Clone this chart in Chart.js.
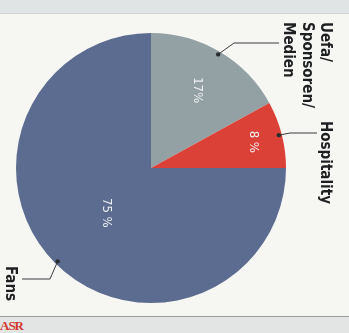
<!DOCTYPE html>
<html>
<head>
<meta charset="utf-8">
<script src="https://cdn.jsdelivr.net/npm/chart.js@4/dist/chart.umd.min.js"></script>
<style>
  html, body { margin: 0; padding: 0; }
  body { width: 349px; height: 333px; background: #f6f6f3; position: relative; overflow: hidden; }
  .topband { position: absolute; left: 0; top: 0; width: 349px; height: 13px; background: #e0e4e4; border-bottom: 1px solid #cfd3d3; }
  .botband { position: absolute; left: 0; top: 316px; width: 349px; height: 17px; background: #e3e5e5; border-top: 1px solid #9a9c9c; }
  .asr { position: absolute; left: 0; top: 318px; font: bold 13px "Liberation Serif", serif; color: #d2372d; letter-spacing: -1px; }
  #wrap { position: absolute; left: 0; top: 0; width: 349px; height: 333px; }
</style>
</head>
<body>
<div class="topband"></div>
<div class="botband"></div>
<div class="asr">ASR</div>
<div id="wrap"><canvas id="pie"></canvas></div>
<script>
// shares in percent, clockwise from 12 o'clock
const labels = [['Uefa/', 'Sponsoren/', 'Medien'], ['Hospitality'], ['Fans']]
const shares = [17, 8, 75]
const pctLabels = ['17%', '8 %', '75 %']
const colors = ['#93a1a5', '#dc4138', '#5b6c90']

// where the outside labels and leader elbows sit (pixels)
const calloutPos = [
  { tx: 325, ty: 22, elbow: [234, 43], end: [279, 43] },
  { tx: 325, ty: 121, elbow: [290, 133], end: [317, 133] },
  { tx: 10, ty: 266, elbow: [50, 279], end: [22, 279] },
]
const pctRadius = [0.67, 0.78, 0.47]

const textFont = 'bold 15px "Liberation Sans Narrow", "DejaVu Sans Condensed", sans-serif'

const calloutPlugin = {
  id: 'callouts',
  afterDatasetsDraw(chart) {
    const ctx = chart.ctx
    const arcs = chart.getDatasetMeta(0).data
    arcs.forEach((arc, i) => {
      const mid = (arc.startAngle + arc.endAngle) / 2
      const r = arc.outerRadius
      // percent label inside the slice
      const px = arc.x + Math.cos(mid) * r * pctRadius[i]
      const py = arc.y + Math.sin(mid) * r * pctRadius[i]
      ctx.save()
      ctx.translate(px, py)
      ctx.rotate(Math.PI / 2)
      ctx.fillStyle = '#eef0f2'
      ctx.font = '13px "Liberation Sans Narrow", "DejaVu Sans Condensed", sans-serif'
      ctx.textAlign = 'center'
      ctx.textBaseline = 'middle'
      ctx.fillText(pctLabels[i], 0, 0)
      ctx.restore()

      // leader line from the rim to the label
      const dx = arc.x + Math.cos(mid) * (r - 3)
      const dy = arc.y + Math.sin(mid) * (r - 3)
      const c = calloutPos[i]
      ctx.save()
      ctx.strokeStyle = '#3a3d40'
      ctx.lineWidth = 1
      ctx.beginPath()
      ctx.moveTo(dx, dy)
      ctx.lineTo(c.elbow[0], c.elbow[1])
      ctx.lineTo(c.end[0], c.end[1])
      ctx.stroke()
      ctx.fillStyle = '#2b2e30'
      ctx.beginPath()
      ctx.arc(dx, dy, 2.2, 0, Math.PI * 2)
      ctx.fill()

      // rotated label text
      ctx.translate(c.tx, c.ty)
      ctx.rotate(Math.PI / 2)
      ctx.fillStyle = '#1d1f21'
      ctx.font = textFont
      ctx.textAlign = 'left'
      ctx.textBaseline = 'middle'
      labels[i].forEach((line, j) => ctx.fillText(line, 0, j * 18.5))
      ctx.restore()
    })
  },
}

const pieConfig = {
  type: 'pie',
  data: {
    labels: labels.map(l => l.join(' ')),
    datasets: [
      {
        data: shares,
        backgroundColor: colors,
        borderWidth: 0,
      },
    ],
  },
  options: {
    responsive: false,
    animation: false,
    layout: { padding: { left: 16, right: 63, top: 33, bottom: 30 } },
    plugins: {
      legend: { display: false },
      tooltip: { enabled: false },
    },
  },
  plugins: [calloutPlugin],
}

const pieCtx = document.getElementById('pie')
pieCtx.width = 349
pieCtx.height = 333
window.myPie = new Chart(pieCtx, pieConfig)
</script>
</body>
</html>
